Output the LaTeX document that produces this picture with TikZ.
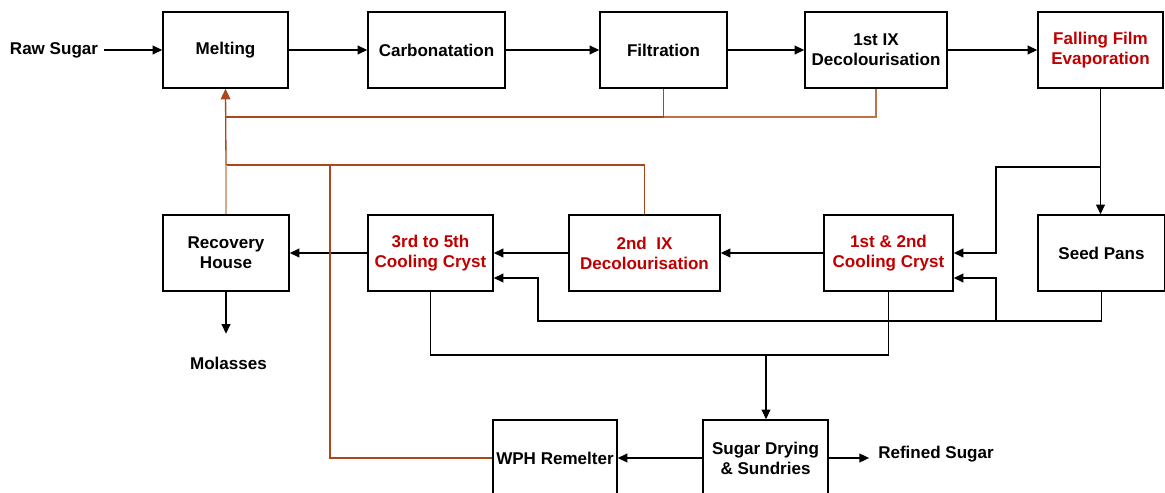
\documentclass[tikz,border=0pt]{standalone}
\usepackage{fontspec}
\setmainfont{Liberation Sans}
\usepackage{xcolor}
\usetikzlibrary{arrows.meta,positioning,calc}
\definecolor{SugarRed}{HTML}{C00000}
\definecolor{SugarBrown}{HTML}{A8481C}
\definecolor{SugarRust}{HTML}{C0704A}
\definecolor{SugarTan}{HTML}{D8A88E}

\begin{document}
\begin{tikzpicture}[x=0.02cm,y=-0.02cm,
  box/.style={draw=black,line width=0.85pt,fill=white,minimum width=2.5cm,minimum height=1.52cm,align=center,inner sep=1pt,font=\fontsize{9.7}{11.4}\selectfont\bfseries},
  hot/.style={box,text=SugarRed},
  stream/.style={font=\fontsize{9.7}{11.4}\selectfont\bfseries,inner sep=3pt},
  arrow/.style={-{Triangle[length=5.5pt,width=5pt]},line width=0.8pt,draw=black},
  recycle/.style={line width=0.75pt,draw=SugarBrown}]
  \useasboundingbox (0,0) rectangle (1165,493);
  % top row
  \node[stream] (raw) at (54,50) {Raw Sugar};
  \node[box] (melt) at (225.5,50) {Melting};
  \node[box,minimum width=2.74cm] (carb) at (436.5,50) {Carbonatation};
  \node[box,minimum width=2.54cm] (filt) at (663.5,50) {Filtration};
  \node[box,minimum width=2.84cm] (ixone) at (876,50) {1st IX\\Decolourisation};
  \node[hot] (ffe) at (1100.5,50) {Falling Film\\Evaporation};
  % crystallisation row
  \node[box,minimum width=2.54cm] (seed) at (1101.5,253) {Seed Pans};
  \node[hot,minimum width=2.58cm] (ccone) at (888.5,253) {1st \& 2nd\\Cooling Cryst};
  \node[hot,minimum width=3.02cm] (ixtwo) at (644.5,253) {2nd\ \ IX\\Decolourisation};
  \node[hot] (cctwo) at (430.5,253) {3rd to 5th\\Cooling Cryst};
  \node[box,minimum width=2.52cm] (recov) at (226,253) {Recovery\\House};
  \node[stream] (mol) at (228.5,363) {Molasses};
  % bottom row
  \node[box,minimum width=2.48cm] (wph) at (555,458) {WPH Remelter};
  \node[box] (dry) at (765.5,458) {Sugar Drying\\\& Sundries};
  \node[stream,inner sep=1pt] (refined) at (936,454) {Refined Sugar};
  % junctions
  \coordinate (ffetap) at (1101,167);
  \coordinate (ffebend) at (996,167);
  \coordinate (seedloop) at (538,321);
  \coordinate (seedtap) at (996,321);
  \coordinate (prodrow) at (766,355);
  \coordinate (meltin) at (226,117);
  \coordinate (recyc) at (226,165);
  \coordinate (remeltup) at (330,165);

  \draw[arrow] (raw) -- (melt);
  \draw[arrow] (melt) -- (carb);
  \draw[arrow] (carb) -- (filt);
  \draw[arrow] (filt) -- (ixone);
  \draw[arrow] (ixone) -- (ffe);
  \draw[arrow] (ffe.south) -- (ffe.south |- seed.north);
  \draw[arrow] (ffetap) -- (ffebend) |- (ccone.east);
  \draw[arrow] (seed.south) |- (seedloop) |- ($(cctwo.east)+(0,25)$);
  \draw[arrow] (seedtap) |- ($(ccone.east)+(0,25)$);
  \draw[arrow] (ccone) -- (ixtwo);
  \draw[arrow] (ixtwo) -- (cctwo);
  \draw[arrow] (cctwo) -- (recov);
  \draw[arrow] (recov.south) -- ($(recov.south)+(0,42)$);
  \draw[line width=0.8pt] (cctwo.south) |- (prodrow) -| (ccone.south);
  \draw[arrow] (prodrow) -- (prodrow |- dry.north);
  \draw[arrow] (dry) -- (wph);
  \draw[arrow,shorten >=4pt] (dry.east) -- (dry.east -| refined.west);

  % recycle streams
  \draw[recycle,draw=SugarRust] (ixone.south) |- (filt.south |- meltin);
  \draw[recycle] (filt.south) |- (meltin);
  \draw[recycle,-{Triangle[length=6pt,width=5.5pt]}] (recyc) -- (melt.south);
  \draw[recycle] (ixtwo.north) |- (recyc);
  \draw[recycle] (wph.west) -| (remeltup);
  \draw[recycle,draw=SugarTan] (recov.north) -- (recov.north |- recyc);
\end{tikzpicture}
\end{document}
